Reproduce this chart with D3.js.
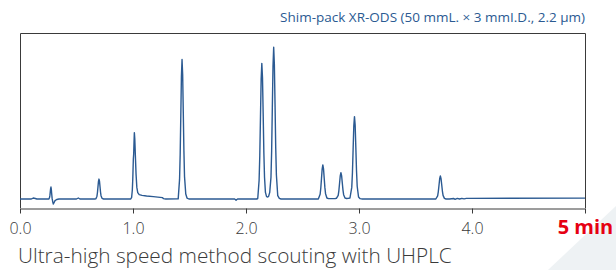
<!DOCTYPE html>
<html lang="en">
<head>
    <meta charset="UTF-8">
    <title>UHPLC chromatogram</title>
    <style>
        body {
            margin: 0;
            background: #fff;
            font-family: "Open Sans", "Noto Sans", Arial, sans-serif;
        }
        .frame {
            fill: none;
            stroke: #3a3a3a;
            stroke-width: 1;
        }
        .trace {
            fill: none;
            stroke: #2b5a92;
            stroke-width: 1.4;
            stroke-linejoin: round;
        }
    </style>
</head>
<body>
    <svg width="616" height="270"></svg>

    <script src="https://d3js.org/d3.v7.min.js"></script>
    <script>
        // chromatogram points: [time (min), signal]
        const trace = [
            [0.000, 0], [0.100, 0], [0.117, 0.6], [0.135, 0.3], [0.150, 0], [0.240, 0],
            [0.256, 0], [0.262, 1.0], [0.265, 2.3], [0.268, 4.3], [0.271, 6.3], [0.274, 7.2],
            [0.277, 6.0], [0.280, 3.5], [0.284, 0.5], [0.289, -1.5], [0.295, -3.0], [0.301, -2.2],
            [0.310, -1.0], [0.325, -0.3], [0.345, 0], [0.500, 0], [0.516, 0.6], [0.530, 0], [0.660, 0],
            [0.672, 0.1], [0.681, 1.7], [0.6855, 3.9], [0.690, 7.3], [0.6945, 10.6], [0.699, 12],
            [0.7035, 10.7], [0.708, 7.5], [0.7125, 4.2], [0.717, 2.0], [0.726, 0.4], [0.740, 0],
            [0.980, 0], [0.988, 1.0], [0.994, 5.4], [0.998, 12], [1.003, 24], [1.006, 27],
            [1.009, 34], [1.012, 40], [1.016, 36], [1.021, 26], [1.027, 15], [1.034, 7],
            [1.042, 3.8], [1.055, 2.6], [1.080, 2.2], [1.120, 1.8], [1.180, 1.4], [1.240, 1.0],
            [1.262, 0.8], [1.270, 0.2], [1.290, 0], [1.400, 0.1],
            [1.412, 11.8], [1.4175, 27], [1.423, 50], [1.4285, 74], [1.434, 84], [1.4395, 75],
            [1.445, 52], [1.4505, 29], [1.456, 13.5], [1.467, 3], [1.478, 0.6], [1.495, 0],
            [1.900, 0], [1.912, -0.7], [1.925, 0], [2.095, 0],
            [2.104, 0.3], [2.116, 11.3], [2.122, 26], [2.128, 49], [2.134, 72], [2.140, 81.7],
            [2.146, 73], [2.152, 51], [2.158, 28], [2.164, 13], [2.172, 4], [2.182, 1.4],
            [2.192, 1.2], [2.200, 1.6], [2.210, 4], [2.221, 13], [2.227, 29], [2.233, 55],
            [2.239, 80], [2.245, 91.4], [2.251, 81], [2.257, 57], [2.263, 31], [2.269, 14.5],
            [2.281, 2], [2.295, 0.4], [2.310, 0],
            [2.640, 0], [2.656, 2.8], [2.662, 6.6], [2.668, 12.3], [2.674, 18], [2.680, 20.5],
            [2.686, 18.2], [2.692, 12.6], [2.698, 7], [2.704, 3.2], [2.716, 0.6], [2.730, 0.2],
            [2.760, 0.2], [2.790, 0.3], [2.800, 0.4], [2.816, 2.2], [2.822, 5.1], [2.828, 9.5],
            [2.834, 13.9], [2.840, 15.8], [2.846, 14.1], [2.852, 9.8], [2.858, 5.5], [2.864, 2.6],
            [2.876, 0.6], [2.890, 0.3], [2.905, 0.4], [2.920, 0.6], [2.936, 7], [2.942, 16],
            [2.948, 30], [2.954, 44], [2.960, 49.6], [2.966, 44.5], [2.972, 31], [2.978, 17],
            [2.984, 7.7], [2.996, 1.2], [3.010, 0.2], [3.030, 0],
            [3.680, 0], [3.696, 1.9], [3.702, 4.5], [3.708, 8.3], [3.714, 12.2], [3.720, 13.9],
            [3.726, 12.3], [3.732, 8.6], [3.738, 4.8], [3.744, 2.2], [3.756, 0.4], [3.770, 0],
            [3.800, 0], [3.840, 0.3], [3.850, -0.2], [3.870, 0.4], [3.890, 0], [3.910, 0.4],
            [3.930, 0.1], [3.950, 0.4], [3.970, 0.4], [5.000, 0.5]
        ];

        const tickValues = [0, 1, 2, 3, 4, 5];
        const tickLabels = ["0.0", "1.0", "2.0", "3.0", "4.0", "5 min"];
        const columnLabel = "Shim-pack XR-ODS (50 mmL. \u00d7 3 mmI.D., 2.2 \u03bcm)";
        const caption = "Ultra-high speed method scouting with UHPLC";

        const svg = d3.select("svg");
        const plotLeft = 20, plotRight = 585, plotTop = 33, plotBottom = 208;

        // faint corner decoration
        svg.append("path")
            .attr("d", "M548,270 L616,206 L616,270 Z")
            .attr("fill", "#eef2f4");

        const x = d3.scaleLinear().domain([0, 5]).range([plotLeft, plotRight]);
        const y = d3.scaleLinear().domain([0, 100]).range([199, plotTop]);

        // plot frame (top, left, right)
        svg.append("path")
            .attr("class", "frame")
            .attr("d", `M${plotLeft + 0.5},${plotBottom} V${plotTop + 0.5} H${plotRight + 0.5} V${plotBottom}`);

        const axis = svg.append("g")
            .attr("transform", `translate(0,${plotBottom + 0.5})`)
            .call(d3.axisBottom(x)
                .tickValues(tickValues)
                .tickFormat((d, i) => tickLabels[i])
                .tickSizeInner(5)
                .tickSizeOuter(0)
                .tickPadding(9));

        axis.select(".domain").attr("stroke", "#3a3a3a");
        axis.selectAll(".tick line").attr("stroke", "#3a3a3a");
        axis.selectAll(".tick text")
            .attr("font-family", "'Open Sans', 'Noto Sans', sans-serif")
            .attr("font-size", 16)
            .attr("font-weight", 300)
            .attr("fill", "#3a3a3a");
        axis.selectAll(".tick text")
            .filter((d, i) => i === tickLabels.length - 1)
            .attr("font-size", 20)
            .attr("font-weight", "bold")
            .attr("fill", "#e60012")
            .attr("y", 11.2);

        const line = d3.line()
            .x(d => x(d[0]))
            .y(d => y(d[1]));

        svg.append("path")
            .datum(trace)
            .attr("class", "trace")
            .attr("d", line);

        svg.append("text")
            .attr("x", plotRight)
            .attr("y", 22)
            .attr("text-anchor", "end")
            .attr("font-size", 13.5)
            .attr("fill", "#2b5a92")
            .text(columnLabel);

        svg.append("text")
            .attr("x", 18)
            .attr("y", 263)
            .attr("font-size", 20.8)
            .attr("font-weight", 300)
            .attr("fill", "#3a3a3a")
            .text(caption);
    </script>
</body>
</html>
